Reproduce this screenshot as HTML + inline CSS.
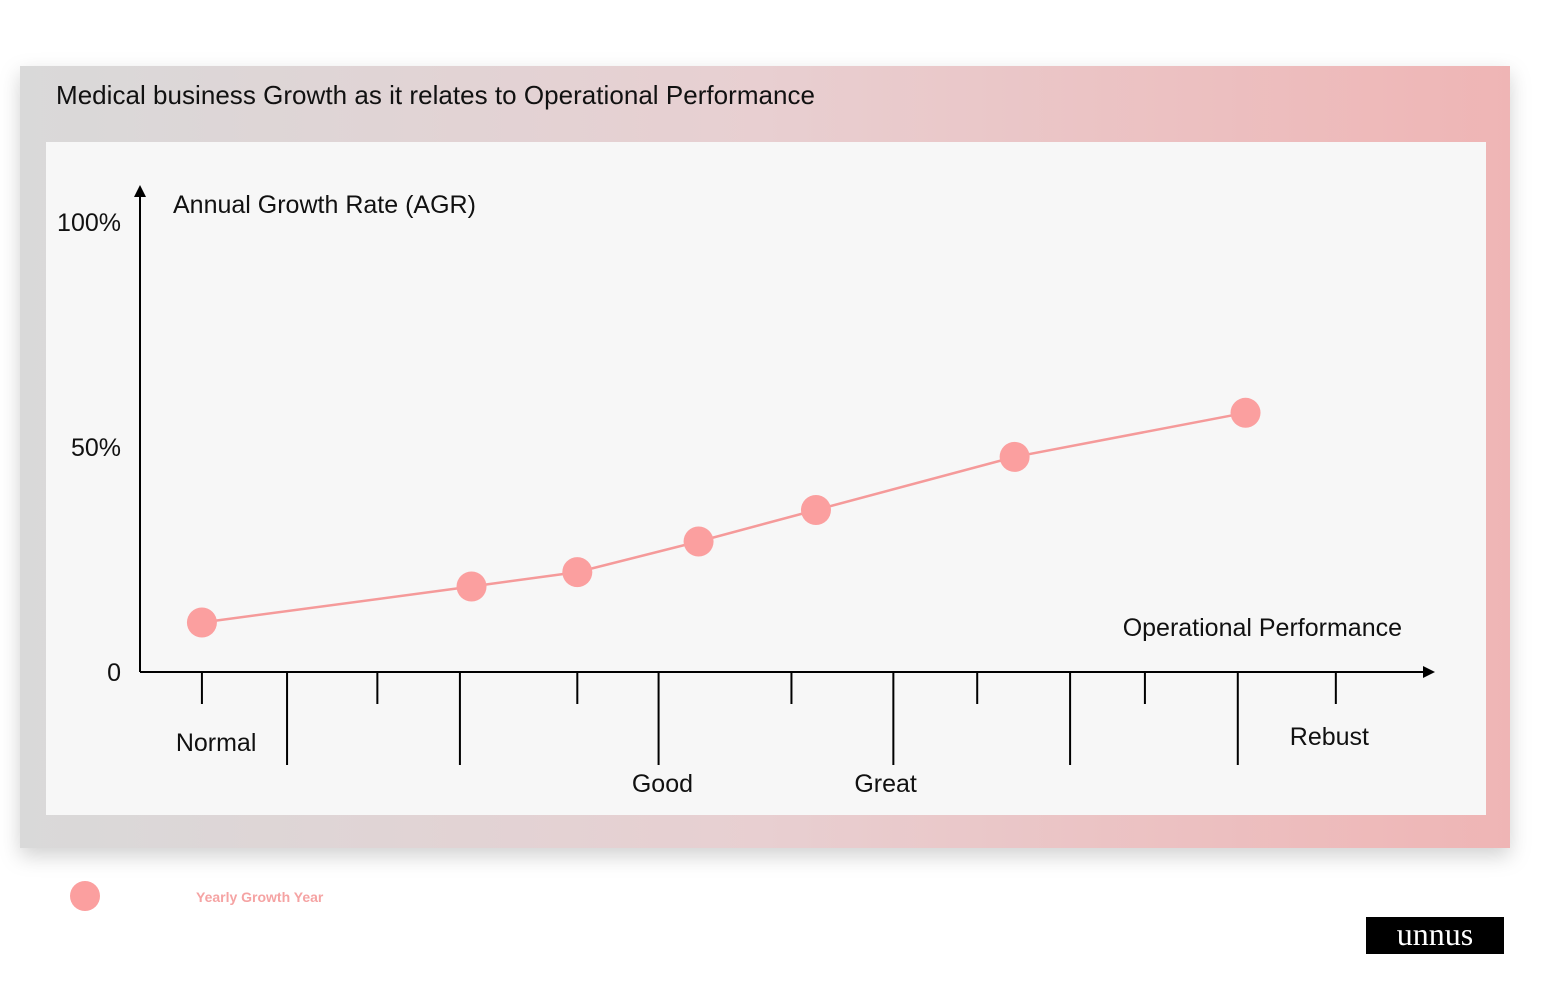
<!DOCTYPE html>
<html><head><meta charset="utf-8"><style>
body{margin:0;background:#fff;}
svg{display:block;font-family:"Liberation Sans",sans-serif;}
</style></head><body>
<svg id="c" width="1562" height="990" viewBox="0 0 1562 990">
<defs>
<linearGradient id="g" x1="0" x2="1" y1="0" y2="0"><stop offset="0" stop-color="#d9d9d9"/><stop offset="0.5" stop-color="#e8cfd1"/><stop offset="1" stop-color="#efb5b5"/></linearGradient>
<filter id="sh" x="-5%" y="-5%" width="110%" height="115%"><feDropShadow dx="0" dy="8" stdDeviation="10" flood-color="#000" flood-opacity="0.18"/></filter>
</defs>
<rect x="20" y="66" width="1490" height="782" fill="url(#g)" filter="url(#sh)"/>
<text x="56" y="104" font-size="26" textLength="759" fill="#111">Medical business Growth as it relates to Operational Performance</text>
<rect x="46" y="142" width="1440" height="673" fill="#f7f7f7"/>
<g id="axes"></g>
<g id="marks"></g>
<circle cx="85" cy="896" r="15" fill="#fb9f9f"/>
<text x="196" y="902" font-size="14" font-weight="bold" fill="#f5a3a3">Yearly Growth Year</text>
<rect x="1366" y="917" width="138" height="37" fill="#000"/>
<text x="1435" y="945" font-size="32" fill="#fff" text-anchor="middle" font-family="Liberation Serif,serif">unnus</text>
</svg>
<script>
const perf=[4.8,25.7,33.9,43.3,52.4,67.8,85.7];
const agr=[11,19,22.2,29,36,47.8,57.6];
const yTicks=[0,50,100];
const yTickLabels=["0","50%","100%"];
const shortTicks=[4.8,18.4,33.9,50.5,64.9,77.9,92.7];
const longTicks=[11.4,24.8,40.2,58.4,72.1,85.1];
const catLabels=["Normal","Good","Great","Rebust"];
const catPos=[5.9,40.5,57.8,92.2];
const catY=[751,792,792,745];
const NS="http://www.w3.org/2000/svg";
const X=v=>140+v*12.9, Y=v=>672-v*4.5;
function mk(p,t,a){const e=document.createElementNS(NS,t);for(const k in a)e.setAttribute(k,a[k]);p.appendChild(e);return e;}
const ax=document.getElementById('axes'),mg=document.getElementById('marks');
let l=mk(ax,'line',{x1:140,y1:672,x2:140,y2:192,stroke:'#000','stroke-width':2});

let p=mk(ax,'path',{d:'M134,197 L140,185 L146,197Z',fill:'#000'});

l=mk(ax,'line',{x1:140,y1:672,x2:1425,y2:672,stroke:'#000','stroke-width':2});

p=mk(ax,'path',{d:'M1423,666 L1435,672 L1423,678Z',fill:'#000'});

yTicks.forEach((v,i)=>{const t=mk(ax,'text',{x:121,y:Y(v)+9,'font-size':25,'text-anchor':'end',fill:'#111'});t.textContent=yTickLabels[i];
});
shortTicks.forEach(v=>{const t=mk(ax,'line',{x1:X(v),x2:X(v),y1:672,y2:704,stroke:'#000','stroke-width':2});
});
longTicks.forEach(v=>{const t=mk(ax,'line',{x1:X(v),x2:X(v),y1:672,y2:765,stroke:'#000','stroke-width':2});
});
catLabels.forEach((s,i)=>{const t=mk(ax,'text',{x:X(catPos[i]),y:catY[i],'font-size':25,'text-anchor':'middle',fill:'#111'});t.textContent=s;
});
let t=mk(ax,'text',{x:173,y:213,'font-size':25,fill:'#111'});t.textContent='Annual Growth Rate (AGR)';

t=mk(ax,'text',{x:1402,y:636,'font-size':25,'text-anchor':'end',fill:'#111'});t.textContent='Operational Performance';

const pl=mk(mg,'polyline',{points:perf.map((v,i)=>X(v)+','+Y(agr[i])).join(' '),fill:'none',stroke:'#f59a9a','stroke-width':2.5});

perf.forEach((v,i)=>{const c=mk(mg,'circle',{cx:X(v),cy:Y(agr[i]),r:15,fill:'#fb9f9f'});
});
</script>
</body></html>
